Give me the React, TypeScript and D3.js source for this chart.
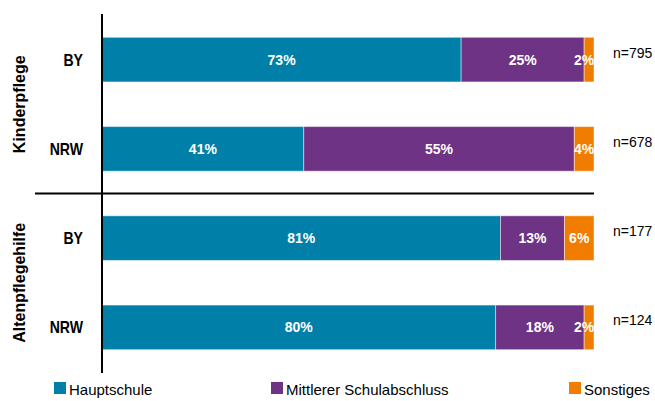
import React from "react";
import * as d3 from "d3";

const groups = ["Kinderpflege", "Altenpflegehilfe"];
const rows = ["BY", "NRW", "BY", "NRW"];
const rowGroup = [0, 0, 1, 1];
const series = ["Hauptschule", "Mittlerer Schulabschluss", "Sonstiges"];
const colors = ["#0080A9", "#6E3385", "#F07D00"];
const hauptschule = [73, 41, 81, 80];
const mittlerer = [25, 55, 13, 18];
const sonstiges = [2, 4, 6, 2];
const nLabels = ["n=795", "n=678", "n=177", "n=124"];

const W = 655;
const H = 401;
const FONT = "'Liberation Sans', Arial, sans-serif";

export default function App() {
  const values = [hauptschule, mittlerer, sonstiges];
  const x = d3.scaleLinear().domain([0, 100]).range([102, 594]);
  const y = d3
    .scaleBand<number>()
    .domain(d3.range(rows.length))
    .range([15, 372])
    .paddingInner(0.5)
    .paddingOuter(0.25);
  const bw = y.bandwidth();
  const stacked = rows.map((_, i) => {
    let acc = 0;
    return values.map((s, k) => {
      const x0 = acc;
      acc += s[i];
      return { k, x0, x1: acc, v: s[i] };
    });
  });
  const sepY = (y(1)! + bw + y(2)!) / 2;
  const groupCenters = groups.map((_, g) => {
    const idx = rowGroup.map((gg, i) => (gg === g ? i : -1)).filter((i) => i >= 0);
    return (y(idx[0])! + y(idx[idx.length - 1])! + bw) / 2;
  });
  const legendX = [54, 271, 569];

  return (
    <svg
      width={W}
      height={H}
      style={{ position: "absolute", left: 0, top: 0, background: "#fff" }}
      fontFamily={FONT}
    >
      {stacked.map((segs, i) =>
        segs.map((s) => (
          <g key={`${i}-${s.k}`}>
            <rect
              x={x(s.x0)}
              y={y(i)!}
              width={x(s.x1) - x(s.x0)}
              height={bw}
              fill={colors[s.k]}
              stroke="rgba(255,255,255,0.45)"
              strokeWidth={1}
            />
            <text
              x={Math.min((x(s.x0) + x(s.x1)) / 2, x(s.x1) - 10)}
              y={y(i)! + bw / 2}
              dy="0.36em"
              textAnchor="middle"
              fill="#fff"
              fontWeight="bold"
              fontSize={14}
            >
              {s.v}%
            </text>
          </g>
        ))
      )}
      <line x1={102} x2={102} y1={14} y2={373} stroke="#000" strokeWidth={2} />
      <line x1={35} x2={594} y1={sepY} y2={sepY} stroke="#000" strokeWidth={2} />
      {rows.map((r, i) => (
        <text
          key={`r${i}`}
          transform={`translate(83,${y(i)! + bw / 2 + 6}) scale(0.88,1)`}
          textAnchor="end"
          fontWeight="bold"
          fontSize={16}
          fill="#000"
        >
          {r}
        </text>
      ))}
      {nLabels.map((n, i) => (
        <text key={`n${i}`} x={613} y={y(i)! + bw / 2 - 2} fontSize={14} fill="#000">
          {n}
        </text>
      ))}
      {groups.map((g, gi) => (
        <text
          key={g}
          transform={`translate(${25},${groupCenters[gi]}) rotate(-90)`}
          textAnchor="middle"
          fontWeight="bold"
          fontSize={16}
          fill="#000"
        >
          {g}
        </text>
      ))}
      {series.map((s, k) => (
        <g key={s}>
          <rect x={legendX[k]} y={382} width={12} height={12} fill={colors[k]} />
          <text x={legendX[k] + 15} y={395} fontSize={15} fill="#000">
            {s}
          </text>
        </g>
      ))}
    </svg>
  );
}
